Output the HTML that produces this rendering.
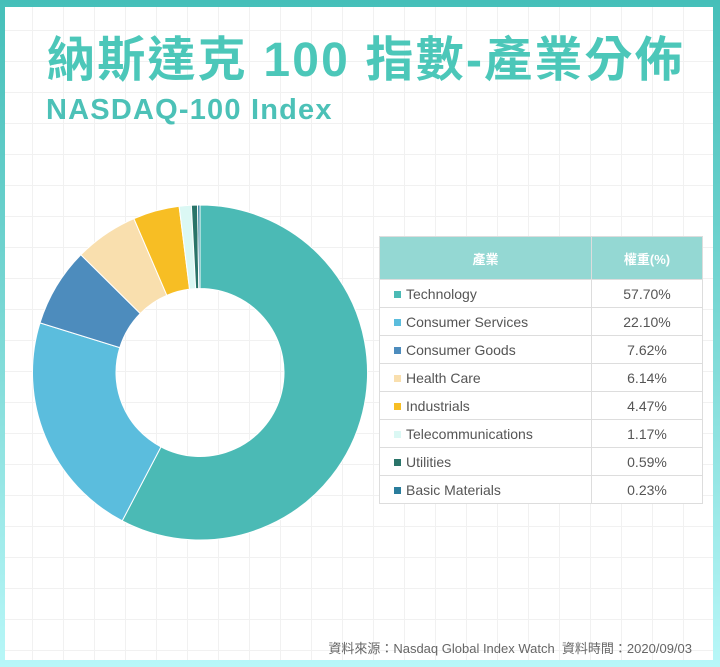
<!DOCTYPE html>
<html><head><meta charset="utf-8">
<style>
html,body{margin:0;padding:0;}
body{width:720px;height:667px;position:relative;overflow:hidden;background:linear-gradient(180deg,#45bfb9 0%,#7cd9d6 50%,#b8f7f8 100%);font-family:"Liberation Sans","Noto Sans CJK TC",sans-serif;}
#card{position:absolute;left:5px;top:7px;width:708px;height:653px;background-color:#fff;
background-image:linear-gradient(#f1f1f1 1px,transparent 1px),linear-gradient(90deg,#f1f1f1 1px,transparent 1px);background-size:31px 31px;background-position:-4px 23px;}
#title{position:absolute;left:42px;top:13px;font-size:48px;font-weight:bold;color:#4cc7b9;letter-spacing:2.2px;white-space:nowrap;}
#subtitle{position:absolute;left:41px;top:87px;font-size:29px;font-weight:bold;color:#4cc1b7;letter-spacing:1.2px;}
table{position:absolute;left:379px;top:236px;border-collapse:collapse;width:324px;font-size:14px;color:#555;background:#fff;}
th{background:#94d8d3;color:#fff;height:40px;font-size:13px;font-weight:bold;border:1px solid #ddd;}
td{height:27px;border:1px solid #ddd;padding:0;}
td.n{padding-left:14px;}
td.v{text-align:center;width:110px;}
.sw{display:inline-block;width:7px;height:7px;margin-right:5px;vertical-align:1px;}
#foot{position:absolute;right:28px;top:638px;font-size:13px;color:#666;}
</style></head><body>
<div id="card">
<div id="title">納斯達克 100 指數-產業分佈</div>
<div id="subtitle">NASDAQ-100 Index</div>
</div>
<svg id="pie" width="720" height="667" style="position:absolute;left:0;top:0"></svg>
<table>
<thead><tr><th>產業</th><th>權重(%)</th></tr></thead>
<tbody id="tb"></tbody>
</table>
<div id="foot">資料來源：Nasdaq Global Index Watch&nbsp;&nbsp;資料時間：2020/09/03</div>
<script>
const categories=["Technology","Consumer Services","Consumer Goods","Health Care","Industrials","Telecommunications","Utilities","Basic Materials"];
const values=[57.70,22.10,7.62,6.14,4.47,1.17,0.59,0.23];
const labels=["57.70%","22.10%","7.62%","6.14%","4.47%","1.17%","0.59%","0.23%"];
const colors=["#4bbab5","#5bbddd","#4d8cbd","#f9dfae","#f7be24","#dbf8f4","#2a7469","#2a7d9c"];
const cx=200,cy=372.5,R=167.5,r=84;
const svg=document.getElementById('pie');
const ns="http://www.w3.org/2000/svg";
const total=values.reduce((a,b)=>a+b,0);
let a0=0;
function pt(rad,ang){return [cx+rad*Math.sin(ang),cy-rad*Math.cos(ang)];}
values.forEach((v,i)=>{
  const a1=a0+v/total*2*Math.PI;
  const [x1,y1]=pt(R,a0),[x2,y2]=pt(R,a1),[x3,y3]=pt(r,a1),[x4,y4]=pt(r,a0);
  const lg=(a1-a0)>Math.PI?1:0;
  const p=document.createElementNS(ns,'path');
  p.setAttribute('d',`M${x1},${y1}A${R},${R} 0 ${lg} 1 ${x2},${y2}L${x3},${y3}A${r},${r} 0 ${lg} 0 ${x4},${y4}Z`);
  p.setAttribute('fill',colors[i]);p.setAttribute('stroke','#fff');p.setAttribute('stroke-width','1');
  
  
  svg.appendChild(p);
  a0=a1;
});
const tb=document.getElementById('tb');
categories.forEach((c,i)=>{
  const tr=document.createElement('tr');
  
  
  tr.innerHTML=`<td class="n"><span class="sw" style="background:${colors[i]}"></span>${c}</td><td class="v">${labels[i]}</td>`;
  tb.appendChild(tr);
});
</script>
</body></html>
